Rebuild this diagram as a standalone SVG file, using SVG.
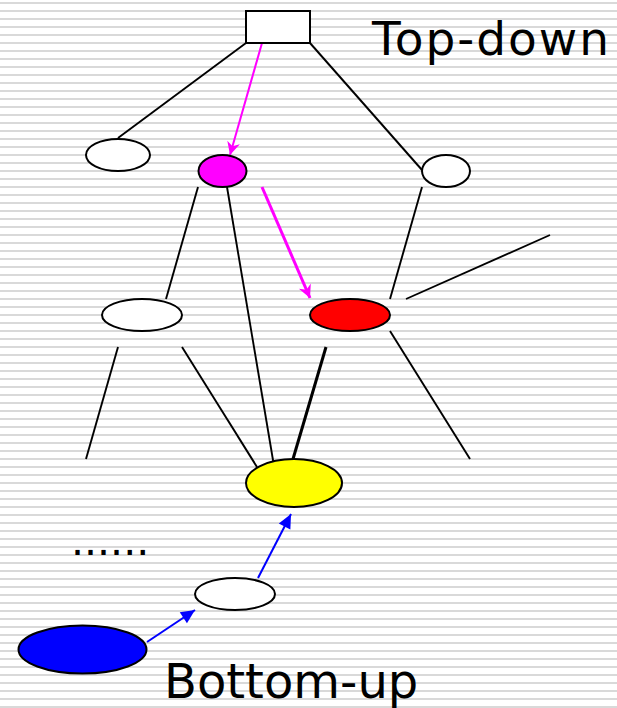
<svg xmlns="http://www.w3.org/2000/svg" width="617" height="708" viewBox="0 0 617 708">
  <defs>
    <pattern id="stripes" width="8" height="8" patternUnits="userSpaceOnUse">
      <rect x="0" y="2" width="8" height="2" fill="#d9d9d9"/>
    </pattern>
    <marker id="head-magenta" viewBox="-14 -7 15 14" markerWidth="15" markerHeight="14" refX="0" refY="0" orient="auto" markerUnits="userSpaceOnUse">
      <path d="M0,0 L-13,-6.5 L-9,0 L-13,6.5 Z" fill="#ff00ff"/>
    </marker>
    <marker id="head-blue" viewBox="-15 -7 16 14" markerWidth="16" markerHeight="14" refX="0" refY="0" orient="auto" markerUnits="userSpaceOnUse">
      <path d="M0,0 L-14,-6.5 L-14,6.5 Z" fill="#0000ff"/>
    </marker>
  </defs>
  <style>
    .edge { stroke: #000; stroke-width: 1.9; fill: none; }
    .edge-bold { stroke: #000; stroke-width: 3; fill: none; }
    .node { stroke: #000; stroke-width: 2; }
    .label { font-family: "DejaVu Sans", Verdana, sans-serif; fill: #000; }
  </style>

  <rect x="0" y="0" width="617" height="708" fill="#fff"/>
  <rect x="0" y="0" width="617" height="708" fill="url(#stripes)"/>

  <g id="connectors">
    <!-- tree edges -->
    <line class="edge" x1="246" y1="43" x2="118" y2="138"/>
    <line class="edge" x1="310" y1="43" x2="422" y2="170"/>
    <line class="edge" x1="198" y1="187" x2="166" y2="299"/>
    <line class="edge" x1="227" y1="187" x2="274" y2="466"/>
    <line class="edge" x1="422" y1="187" x2="390" y2="299"/>
    <line class="edge" x1="406" y1="299" x2="550" y2="235"/>
    <line class="edge" x1="118" y1="347" x2="86" y2="459"/>
    <line class="edge" x1="182" y1="347" x2="257" y2="467"/>
    <line class="edge-bold" x1="326" y1="347" x2="293" y2="459"/>
    <line class="edge" x1="390" y1="331" x2="470" y2="459"/>
    <!-- top-down search path -->
    <line x1="262" y1="43" x2="230" y2="155" stroke="#ff00ff" stroke-width="2" marker-end="url(#head-magenta)"/>
    <line x1="262" y1="187" x2="310" y2="298" stroke="#ff00ff" stroke-width="3" marker-end="url(#head-magenta)"/>
    <!-- bottom-up search path -->
    <line x1="147" y1="642" x2="195" y2="610" stroke="#0000ff" stroke-width="2" marker-end="url(#head-blue)"/>
    <line x1="258" y1="578" x2="291" y2="514" stroke="#0000ff" stroke-width="2" marker-end="url(#head-blue)"/>
  </g>

  <g id="root"><rect class="node" x="246" y="11" width="64" height="32" fill="#fff"/></g>
  <g id="n-left"><ellipse class="node" cx="118" cy="155" rx="32" ry="16" fill="#fff"/></g>
  <g id="n-magenta"><ellipse class="node" cx="222.5" cy="171" rx="24" ry="16" fill="#ff00ff"/></g>
  <g id="n-right"><ellipse class="node" cx="446" cy="171" rx="24" ry="16" fill="#fff"/></g>
  <g id="n-mid-left"><ellipse class="node" cx="142" cy="315" rx="40" ry="16" fill="#fff"/></g>
  <g id="n-red"><ellipse class="node" cx="350" cy="315" rx="40" ry="16" fill="#ff0000"/></g>
  <g id="n-yellow"><ellipse class="node" cx="294" cy="483" rx="48" ry="24" fill="#ffff00"/></g>
  <g id="n-bottom"><ellipse class="node" cx="235" cy="594" rx="40" ry="16" fill="#fff"/></g>
  <g id="n-blue"><ellipse class="node" cx="82.5" cy="649.5" rx="64" ry="24" fill="#0000ff"/></g>

  <g id="labels">
    <text class="label" x="372" y="55" font-size="47" letter-spacing="2">Top-down</text>
    <text class="label" x="71" y="555" font-size="41">......</text>
    <text class="label" x="164" y="698" font-size="48">Bottom-up</text>
  </g>
</svg>
